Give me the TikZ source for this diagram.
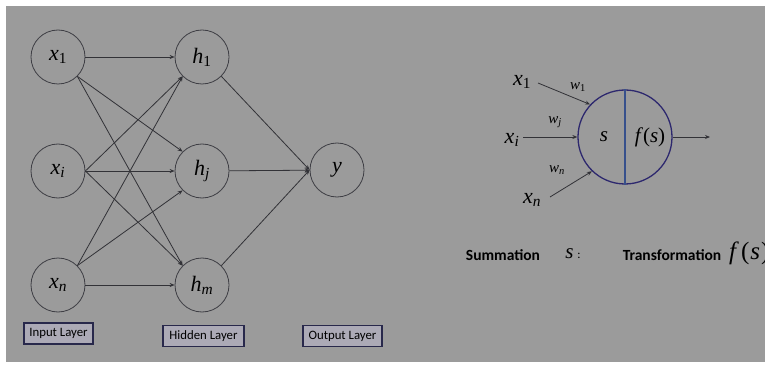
\documentclass[tikz,border=0pt]{standalone}
\usepackage{fontspec}
\setmainfont{Liberation Serif}
\newfontfamily\labelfont{Carlito}
\usetikzlibrary{arrows.meta}

\definecolor{panel}{RGB}{155,155,155}
\definecolor{edge}{RGB}{50,50,55}
\definecolor{ring}{RGB}{62,62,68}
\definecolor{navy}{RGB}{45,40,110}
\definecolor{divider}{RGB}{55,80,140}
\definecolor{tag}{RGB}{172,170,182}
\definecolor{tagline}{RGB}{40,40,75}

% variable with a subscript: \var{x}{1}
\newcommand\var[2]{\textit{#1}\textsubscript{#2}}

\tikzset{
  neuron/.style={circle, draw=ring, line width=0.8pt, minimum size=54pt,
    inner sep=0pt, font=\fontsize{22}{24}\selectfont},
  link/.style={draw=edge, line width=0.8pt,
    -{Stealth[length=5pt,width=4pt]}},
  tagbox/.style={draw=tagline, fill=tag, line width=1.2pt, inner sep=0pt,
    minimum height=21pt, font=\labelfont\fontsize{12.8}{14}\selectfont},
  inlabel/.style={inner sep=1pt, font=\fontsize{22}{24}\selectfont},
  wlabel/.style={inner sep=1pt, font=\fontsize{15}{17}\selectfont},
  caption/.style={inner sep=0pt, font=\labelfont\bfseries\fontsize{15.5}{17}\selectfont},
}

\begin{document}
\begin{tikzpicture}[x=1pt, y=-1pt]
\useasboundingbox (0,0) rectangle (765,366);
\fill[white] (0,0) rectangle (765,366);
\fill[panel] (6,6) rectangle (765,362);

% ---------- feed-forward network ----------
\node[neuron] (x1) at (58,57)  {\var{x}{1}};
\node[neuron] (xi) at (58,171) {\var{x}{\textit{i}}};
\node[neuron] (xn) at (58,285) {\var{x}{\textit{n}}};

\node[neuron] (h1) at (202,57)  {\var{h}{1}};
\node[neuron] (hj) at (202,171) {\var{h}{\textit{j}}};
\node[neuron] (hm) at (202,285) {\var{h}{\textit{m}}};

\node[neuron] (y) at (337,170) {\textit{y}};

\draw[link] (x1) -- (h1);
\draw[link] (x1.-45) -- (hj.135);
\draw[link] (x1.-45) -- (hm.135);
\draw[link] (xi.east) -- (h1.-135);
\draw[link] (xi) -- (hj);
\draw[link] (xi.east) -- (hm.135);
\draw[link] (xn.45) -- (h1.-135);
\draw[link] (xn.45) -- (hj.-135);
\draw[link] (xn) -- (hm);

\draw[link] (h1.-45) -- (y.west);
\draw[link] (hj) -- (y);
\draw[link] (hm.45) -- (y.west);

\node[tagbox, minimum width=69pt] (inlayer)  at (58.5,333.5) {Input Layer};
\node[tagbox, minimum width=81pt] (hidlayer) at (203.5,336) {Hidden Layer};
\node[tagbox, minimum width=79pt] (outlayer) at (342.5,336) {Output Layer};

% ---------- single neuron ----------
\node[circle, draw=navy, line width=1.3pt, minimum size=94pt, inner sep=0pt] (unit) at (625,137) {};
\draw[divider, line width=1.1pt] (unit.north) -- (unit.south);
\node[font=\fontsize{21}{23}\selectfont] (sum) at (604,137) {\textit{s}};
\node[font=\fontsize{21}{23}\selectfont] (fun) at (650,137) {\textit{f}(\textit{s})};

\node[inlabel] (ra) at (522,82)  {\var{x}{1}};
\node[inlabel] (rb) at (512,140) {\var{x}{\textit{i}}};
\node[inlabel] (rc) at (532,200) {\var{x}{\textit{n}}};

\coordinate (sa) at (538,83);
\coordinate (sb) at (523,137);
\coordinate (sc) at (550,197);
\coordinate (out) at (710,137);

\draw[link] (sa) -- (unit.137);
\draw[link] (sb) -- (unit.west);
\draw[link] (sc) -- (unit.226);
\draw[link] (unit.east) -- (out);

\node[wlabel] (w1) at (578,87)  {\var{w}{1}};
\node[wlabel] (wj) at (555,122) {\var{w}{\textit{j}}};
\node[wlabel] (wn) at (557,170) {\var{w}{\textit{n}}};

% ---------- legend ----------
\node[caption] (sumtxt) at (503,255) {Summation};
\node[inner sep=0pt] (sumsym) at (573,254) {{\fontsize{21}{23}\selectfont\textit{s}}\hspace{4pt}{\labelfont\fontsize{12}{14}\selectfont :}};
\node[caption] (trtxt) at (672,255) {Transformation};
\node[inner sep=0pt, anchor=west, font=\fontsize{25}{27}\selectfont] (trsym) at (729,253) {\textit{f}\kern2pt(\kern1pt\textit{s}\kern1pt)};
\end{tikzpicture}
\end{document}
